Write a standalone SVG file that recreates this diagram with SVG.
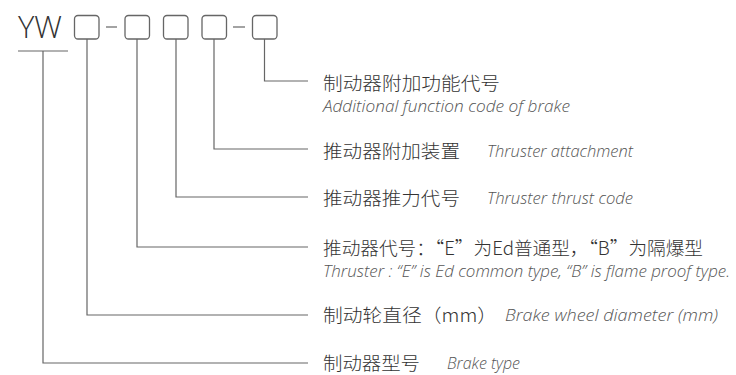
<svg xmlns="http://www.w3.org/2000/svg" width="736" height="375" viewBox="0 0 736 375">
<style>
.bx{fill:#fff;stroke:#666;stroke-width:1.3}
.ln{fill:none;stroke:#666;stroke-width:1.2}
.zh{font-family:"Noto Sans CJK SC","Noto Sans",sans-serif;font-weight:300;font-size:18.5px;fill:#333}
.en{font-family:"Open Sans","Noto Sans",sans-serif;font-style:italic;font-weight:300;font-size:15.5px;fill:#555}
.yw{font-family:"Open Sans","Liberation Sans",sans-serif;font-weight:300;font-size:31px;fill:#333}
</style>
<rect width="736" height="375" fill="#fff"/>
<g id="code">
<text class="yw" x="18" y="38" textLength="44" lengthAdjust="spacingAndGlyphs">YW</text>
<rect class="bx" x="74.5" y="15.5" width="24.5" height="23.5" rx="3.5"/>
<line class="ln" x1="106" y1="27" x2="117" y2="27"/>
<rect class="bx" x="125" y="15.5" width="24.5" height="23.5" rx="3.5"/>
<rect class="bx" x="163.5" y="15.5" width="24.5" height="23.5" rx="3.5"/>
<rect class="bx" x="202" y="15.5" width="24.5" height="23.5" rx="3.5"/>
<line class="ln" x1="233" y1="27" x2="245" y2="27"/>
<rect class="bx" x="252.5" y="15.5" width="24.5" height="23.5" rx="3.5"/>
</g>
<g id="connectors">
<line class="ln" x1="18" y1="51" x2="68" y2="51"/>
<polyline class="ln" points="43,51 43,363 308,363"/>
<polyline class="ln" points="87,39 87,315 308,315"/>
<polyline class="ln" points="137,39 137,247 308,247"/>
<polyline class="ln" points="176,39 176,197 308,197"/>
<polyline class="ln" points="214,39 214,149 308,149"/>
<polyline class="ln" points="264.5,39 264.5,81 308,81"/>
</g>
<g id="label1">
<text class="zh" x="323" y="90" textLength="177" lengthAdjust="spacingAndGlyphs">制动器附加功能代号</text>
<text class="en" x="323" y="112" textLength="247" lengthAdjust="spacingAndGlyphs">Additional function code of brake</text>
</g>
<g id="label2">
<text class="zh" x="323" y="158" textLength="137" lengthAdjust="spacingAndGlyphs">推动器附加装置</text>
<text class="en" x="487" y="157" textLength="146" lengthAdjust="spacingAndGlyphs">Thruster attachment</text>
</g>
<g id="label3">
<text class="zh" x="323" y="205" textLength="137" lengthAdjust="spacingAndGlyphs">推动器推力代号</text>
<text class="en" x="487" y="204" textLength="146" lengthAdjust="spacingAndGlyphs">Thruster thrust code</text>
</g>
<g id="label4">
<text class="zh" x="323" y="255" textLength="380" lengthAdjust="spacingAndGlyphs">推动器代号：“E”为Ed普通型，“B”为隔爆型</text>
<text class="en" x="323" y="277" textLength="407" lengthAdjust="spacingAndGlyphs">Thruster : “E” is Ed common type, “B” is flame proof type.</text>
</g>
<g id="label5">
<text class="zh" x="323" y="322" textLength="174" lengthAdjust="spacingAndGlyphs">制动轮直径（mm）</text>
<text class="en" x="505" y="321" textLength="213" lengthAdjust="spacingAndGlyphs">Brake wheel diameter (mm)</text>
</g>
<g id="label6">
<text class="zh" x="323" y="370" textLength="97" lengthAdjust="spacingAndGlyphs">制动器型号</text>
<text class="en" x="447" y="369" textLength="73" lengthAdjust="spacingAndGlyphs">Brake type</text>
</g>
</svg>
